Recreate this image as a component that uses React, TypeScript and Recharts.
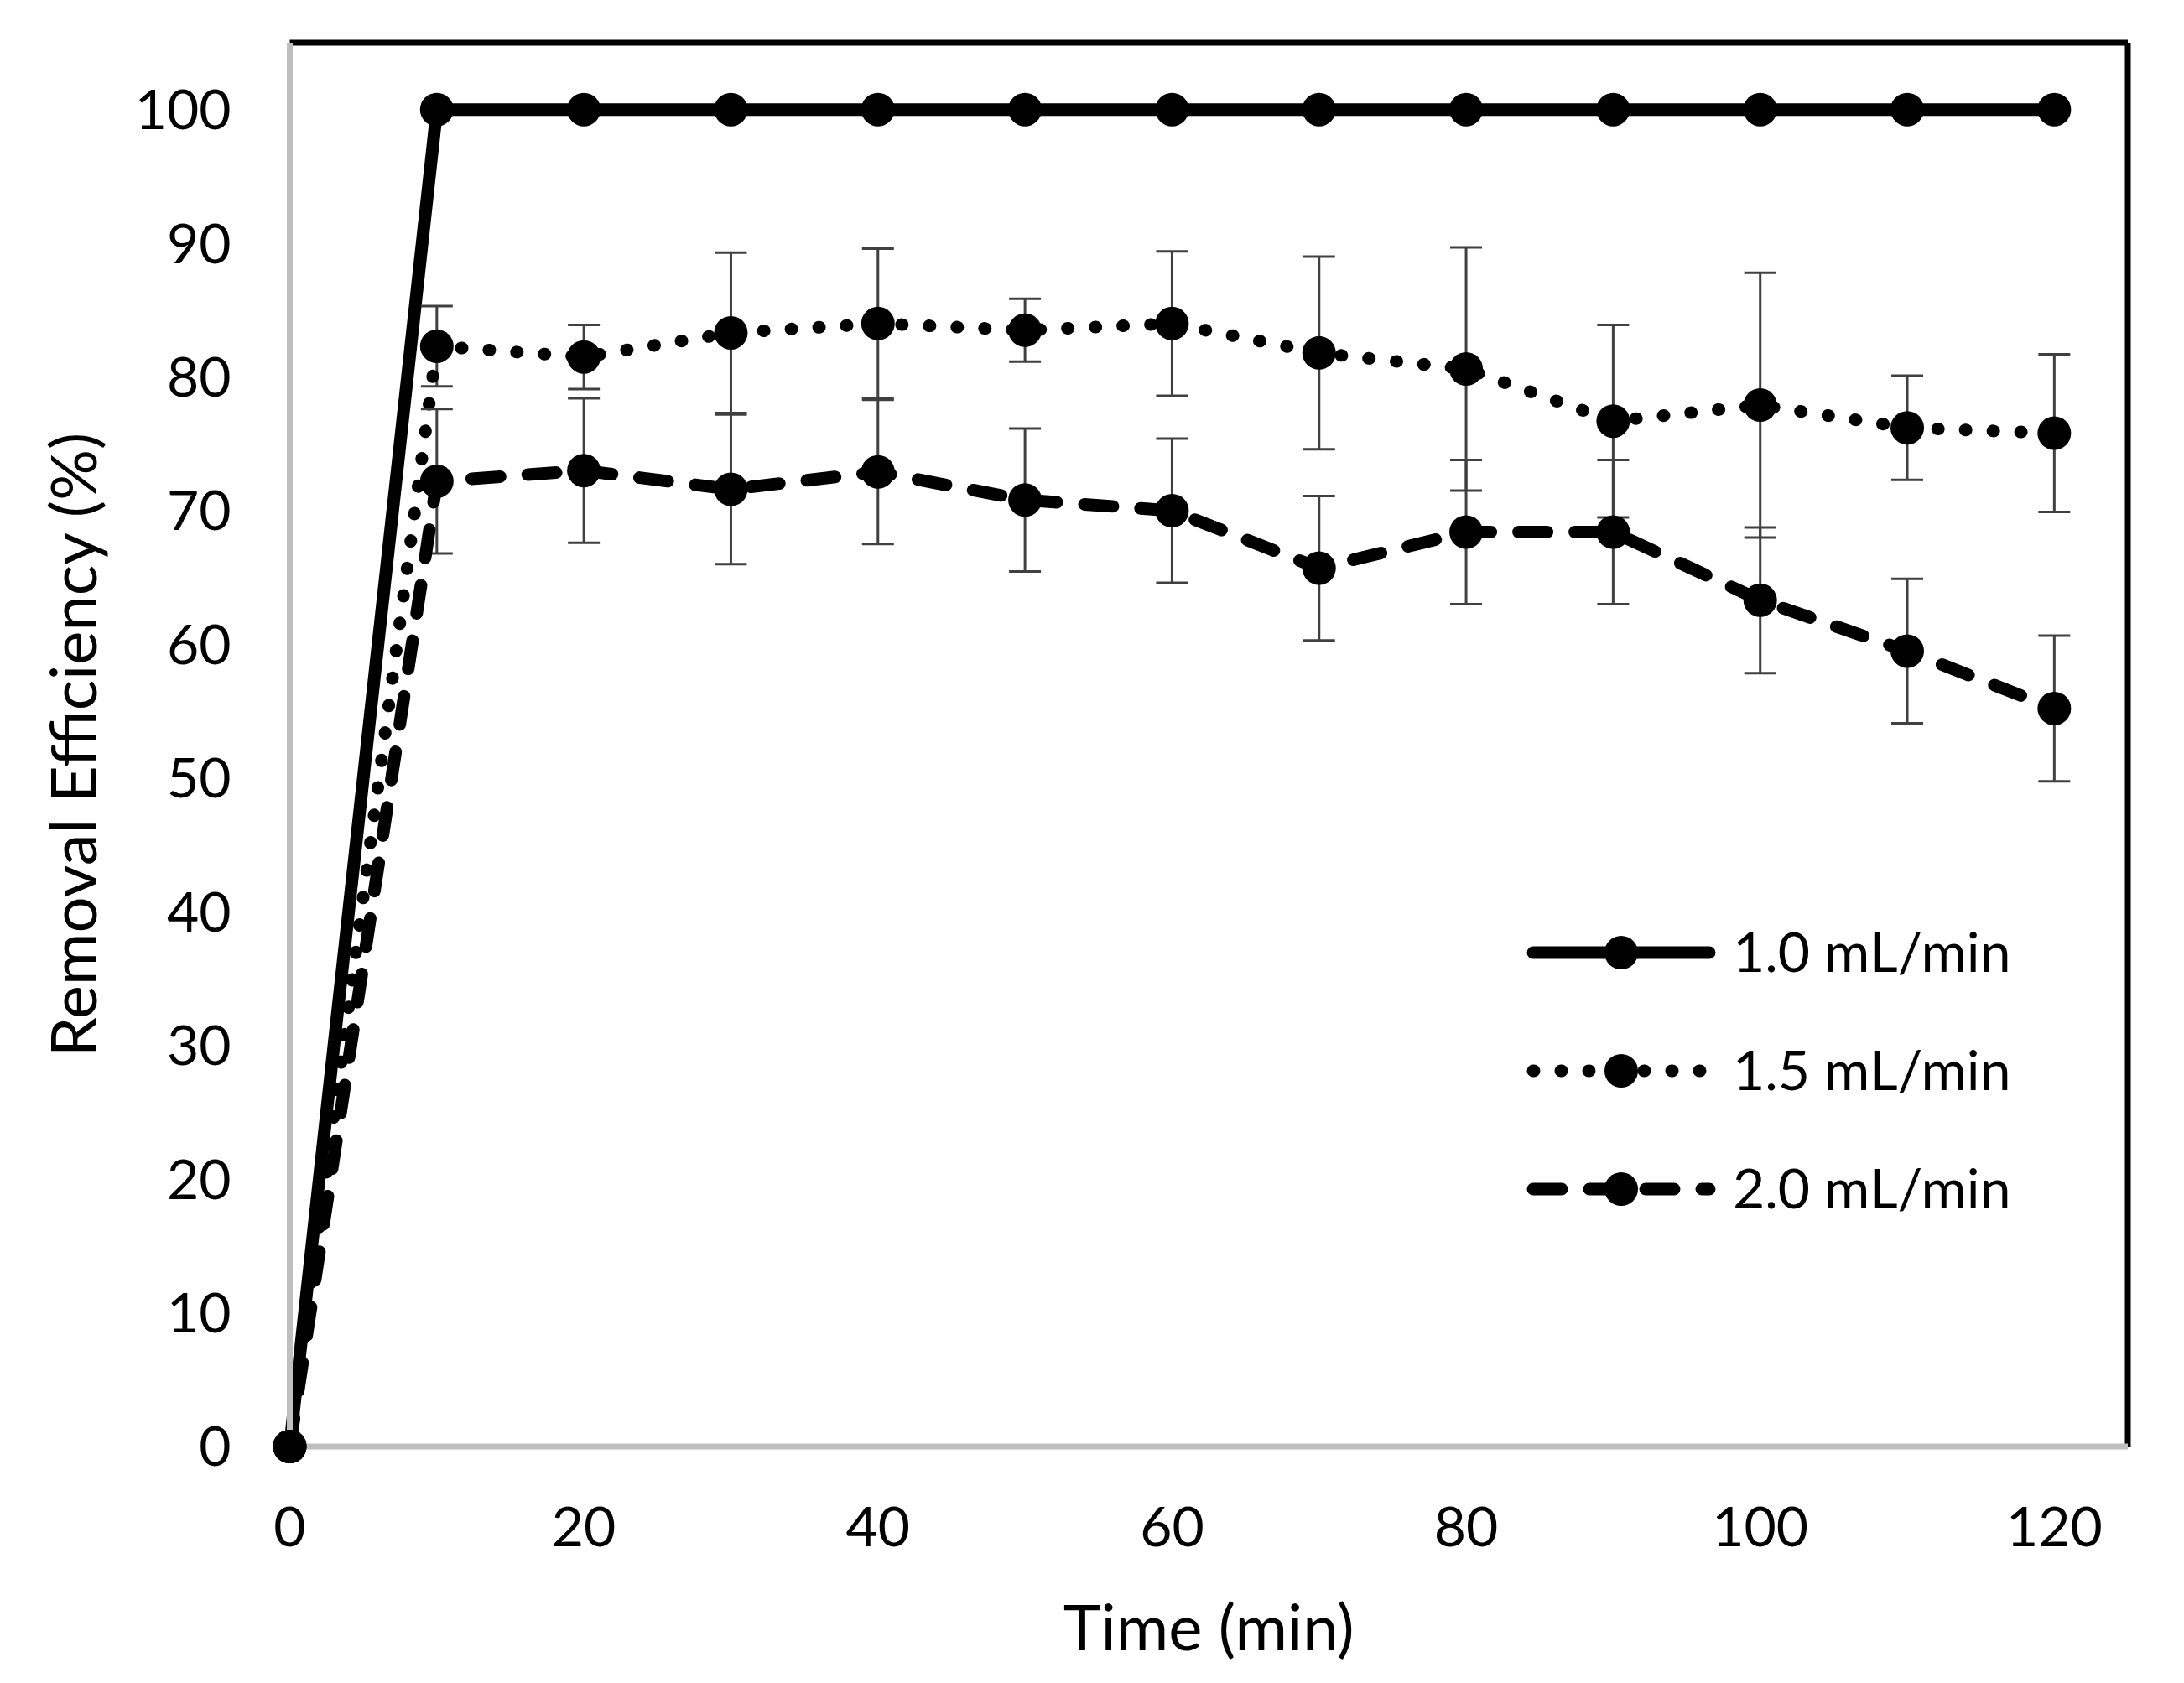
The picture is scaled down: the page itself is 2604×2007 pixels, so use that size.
import { LineChart, Line, XAxis, YAxis, ErrorBar, ReferenceLine } from 'recharts';

// Removal efficiency over time for three flow rates
const times = [0, 10, 20, 30, 40, 50, 60, 70, 80, 90, 100, 110, 120];
const flow10 = [0, 100, 100, 100, 100, 100, 100, 100, 100, 100, 100, 100, 100];
const flow15 = [0, 82.3, 81.5, 83.3, 84.0, 83.5, 84.0, 81.8, 80.6, 76.7, 77.9, 76.2, 75.8];
const err15 = [null, 3.0, 2.4, 6.0, 5.6, 2.35, 5.4, 7.2, 9.1, 7.2, 9.9, 3.9, 5.9];
const flow20 = [0, 72.2, 73.0, 71.6, 72.9, 70.8, 70.0, 65.7, 68.4, 68.4, 63.3, 59.5, 55.2];
const err20 = [null, 5.4, 5.4, 5.6, 5.4, 5.35, 5.4, 5.4, 5.4, 5.4, 5.45, 5.4, 5.45];

const seriesNames = ['1.0 mL/min', '1.5 mL/min', '2.0 mL/min'];
const xTicks = [0, 20, 40, 60, 80, 100, 120];
const yTicks = [0, 10, 20, 30, 40, 50, 60, 70, 80, 90, 100];

const data = times.map((t, i) => ({
  t, f10: flow10[i], f15: flow15[i], e15: err15[i], f20: flow20[i], e20: err20[i],
}));

const FONT = 'Lato, "Open Sans", sans-serif';
const LW = 15;
const dashes = [undefined, '1 32', '34 33'];
const AXIS_GREY = '#bfbfbf';
const ERR = '#404040';

const W = 2588;
const H = 1991;

function LegendBox() {
  const rowY = [1128, 1269, 1410];
  return (
    <g>
      {seriesNames.map((name, i) => (
        <g key={name}>
          <line x1={1820} x2={2030} y1={rowY[i]} y2={rowY[i]} stroke="#000" strokeWidth={LW}
            strokeLinecap="round" strokeDasharray={dashes[i]} />
          <circle cx={1925} cy={rowY[i]} r={20} fill="#000" />
          <text x={2058} y={rowY[i] + 23} fontSize={66} fontFamily={FONT} fill="#000">{name}</text>
        </g>
      ))}
    </g>
  );
}

export default function App() {
  const dot = { r: 20, fill: '#000', stroke: 'none', strokeWidth: 0 };
  return (
    <div style={{ width: W, height: H, background: '#fff' }}>
      <LineChart width={W} height={H} data={data} margin={{ top: 43, right: 59, bottom: 0, left: 0 }}>
        <XAxis dataKey="t" type="number" domain={[0, 125]} ticks={xTicks} height={274}
          stroke={AXIS_GREY} strokeWidth={7} tickLine={false} tickSize={0} tickMargin={72}
          tick={{ fill: '#000', fontSize: 66, fontFamily: FONT }}
          label={{ value: 'Time (min)', position: 'insideBottom', offset: 31, fill: '#000', fontSize: 76, fontFamily: FONT }} />
        <YAxis type="number" domain={[0, 105]} ticks={yTicks} width={337.5}
          stroke={AXIS_GREY} strokeWidth={7} tickLine={false} tickSize={0} tickMargin={70}
          tick={{ fill: '#000', fontSize: 66, fontFamily: FONT }}
          label={{
            content: (p: any) => {
              const vb = p.viewBox;
              const cy = vb.y + vb.height / 2;
              return (
                <text x={107} y={cy} transform={`rotate(-90, 107, ${cy})`} textAnchor="middle"
                  fontSize={76} fontFamily={FONT} fill="#000">Removal Efficiency (%)</text>
              );
            },
          }} />
        <ReferenceLine y={105} stroke="#000" strokeWidth={7} />
        <ReferenceLine x={125} stroke="#000" strokeWidth={7} />
        <Line dataKey="f10" stroke="#000" strokeWidth={LW} dot={dot} activeDot={false}
          isAnimationActive={false} />
        <Line dataKey="f15" stroke="#000" strokeWidth={LW} strokeDasharray={dashes[1]} strokeLinecap="round"
          dot={dot} activeDot={false} isAnimationActive={false}>
          <ErrorBar dataKey="e15" direction="y" width={19} stroke={ERR} strokeWidth={3} isAnimationActive={false} />
        </Line>
        <Line dataKey="f20" stroke="#000" strokeWidth={LW} strokeDasharray={dashes[2]} strokeLinecap="round"
          dot={dot} activeDot={false} isAnimationActive={false}>
          <ErrorBar dataKey="e20" direction="y" width={19} stroke={ERR} strokeWidth={3} isAnimationActive={false} />
        </Line>
        <LegendBox />
      </LineChart>
    </div>
  );
}
